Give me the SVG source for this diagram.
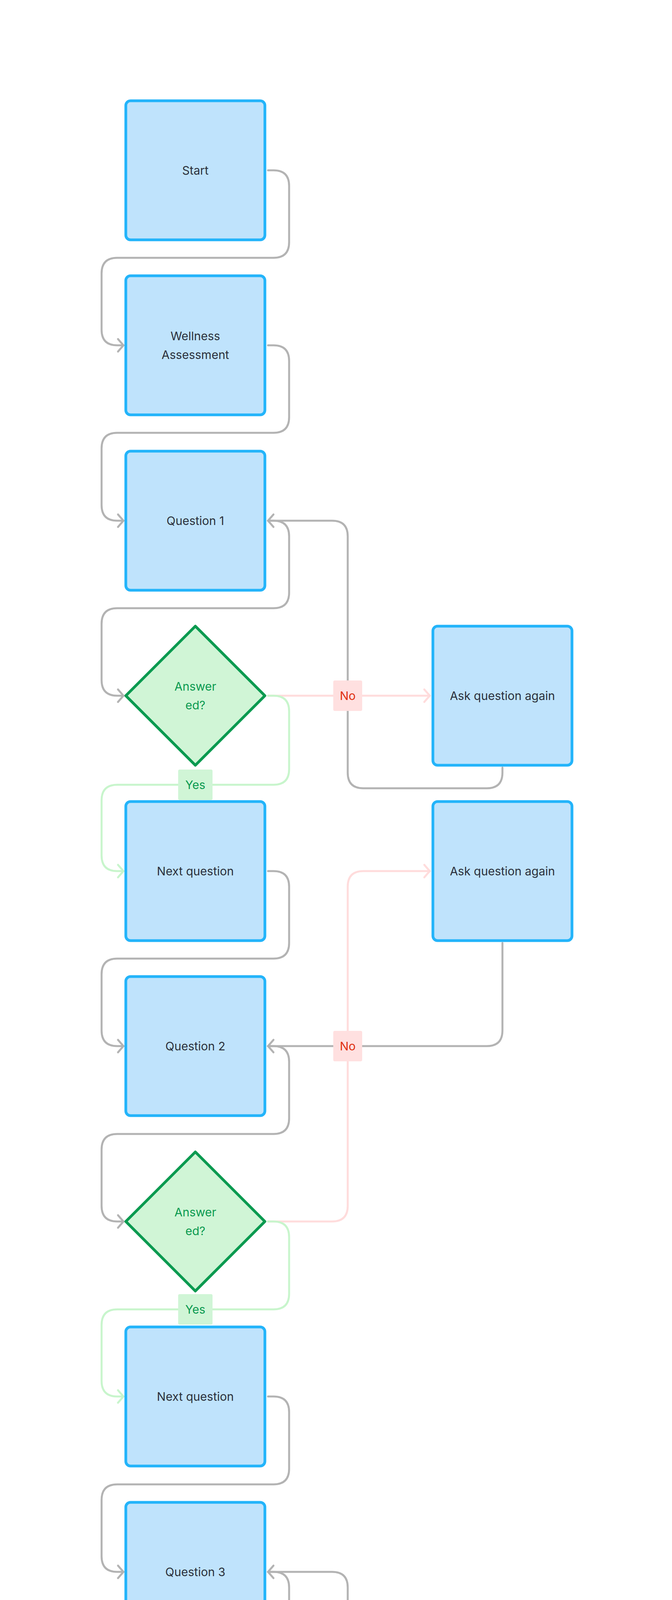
<svg xmlns="http://www.w3.org/2000/svg" width="1720" height="5800" viewBox="0 0 1720 5800">
<style>
.box{fill:#bfe3fc;stroke:#23b4fa;stroke-width:7}
.dia{fill:#d0f5d6;stroke:#0a9a50;stroke-width:7;stroke-linejoin:round}
.t{font-family:Inter,"Liberation Sans",sans-serif;font-size:30px;fill:#2b303b;text-anchor:middle;dominant-baseline:central}
.tg{font-family:Inter,"Liberation Sans",sans-serif;font-size:30px;fill:#0a9a50;text-anchor:middle;dominant-baseline:central}
.tr{font-family:Inter,"Liberation Sans",sans-serif;font-size:30px;fill:#e0300f;text-anchor:middle;dominant-baseline:central}
.g{fill:none;stroke:#b3b3b3;stroke-width:5;stroke-linecap:round;stroke-linejoin:round}
.gr{fill:none;stroke:#c8f5cc;stroke-width:5;stroke-linecap:round;stroke-linejoin:round}
.pk{fill:none;stroke:#ffdcdc;stroke-width:5;stroke-linecap:round;stroke-linejoin:round}
</style>
<defs>
<marker id="ag" markerUnits="userSpaceOnUse" markerWidth="40" markerHeight="40" viewBox="-20 -20 40 40" refX="0" refY="0" orient="auto"><path d="M-14,-16 L0,0 L-14,16" fill="none" stroke="#b3b3b3" stroke-width="5" stroke-linecap="round"/></marker>
<marker id="agr" markerUnits="userSpaceOnUse" markerWidth="40" markerHeight="40" viewBox="-20 -20 40 40" refX="0" refY="0" orient="auto"><path d="M-14,-16 L0,0 L-14,16" fill="none" stroke="#c8f5cc" stroke-width="5" stroke-linecap="round"/></marker>
<marker id="apk" markerUnits="userSpaceOnUse" markerWidth="40" markerHeight="40" viewBox="-20 -20 40 40" refX="0" refY="0" orient="auto"><path d="M-14,-16 L0,0 L-14,16" fill="none" stroke="#ffdcdc" stroke-width="5" stroke-linecap="round"/></marker>
</defs>
<rect width="1720" height="5800" fill="#ffffff"/>
<g id="connectors">
<path class="g" marker-end="url(#ag)" d="M686 436 H700 Q740 436 740 476 V620 Q740 660 700 660 H300 Q260 660 260 700 V844 Q260 884 300 884 H316"/>
<path class="g" marker-end="url(#ag)" d="M686 884 H700 Q740 884 740 924 V1068 Q740 1108 700 1108 H300 Q260 1108 260 1148 V1293 Q260 1333 300 1333 H316"/>
<path class="g" marker-end="url(#ag)" d="M686 1333 H700 Q740 1333 740 1373 V1517 Q740 1557 700 1557 H300 Q260 1557 260 1597 V1741 Q260 1781 300 1781 H316"/>
<path class="pk" marker-end="url(#apk)" d="M686 1781 H1100"/>
<path class="gr" marker-end="url(#agr)" d="M686 1781 H700 Q740 1781 740 1821 V1969 Q740 2009 700 2009 H300 Q260 2009 260 2049 V2190 Q260 2230 300 2230 H316"/>
<path class="g" marker-end="url(#ag)" d="M1286 1965 V1978 Q1286 2018 1246 2018 H930 Q890 2018 890 1978 V1373 Q890 1333 850 1333 H686"/>
<path class="g" marker-end="url(#ag)" d="M686 2230 H700 Q740 2230 740 2270 V2414 Q740 2454 700 2454 H300 Q260 2454 260 2494 V2638 Q260 2678 300 2678 H316"/>
<path class="g" marker-end="url(#ag)" d="M1286 2414 V2638 Q1286 2678 1246 2678 H686"/>
<path class="g" marker-end="url(#ag)" d="M686 2678 H700 Q740 2678 740 2718 V2863 Q740 2903 700 2903 H300 Q260 2903 260 2943 V3087 Q260 3127 300 3127 H316"/>
<path class="pk" marker-end="url(#apk)" d="M686 3127 H850 Q890 3127 890 3087 V2270 Q890 2230 930 2230 H1100"/>
<path class="gr" marker-end="url(#agr)" d="M686 3127 H700 Q740 3127 740 3167 V3312 Q740 3352 700 3352 H300 Q260 3352 260 3392 V3535 Q260 3575 300 3575 H316"/>
<path class="g" marker-end="url(#ag)" d="M686 3575 H700 Q740 3575 740 3615 V3760 Q740 3800 700 3800 H300 Q260 3800 260 3840 V3984 Q260 4024 300 4024 H316"/>
<path class="g" marker-end="url(#ag)" d="M686 4024 H700 Q740 4024 740 4064 V4208 Q740 4248 700 4248 H300 Q260 4248 260 4288 V4432 Q260 4472 300 4472 H316"/>
<path class="pk" marker-end="url(#apk)" d="M686 4472 H1100"/>
<path class="g" marker-end="url(#ag)" d="M1286 4656 V4680 Q1286 4720 1246 4720 H930 Q890 4720 890 4680 V4064 Q890 4024 850 4024 H686"/>
<path class="g" marker-end="url(#ag)" d="M686 4921 H700 Q740 4921 740 4961 V5105 Q740 5145 700 5145 H300 Q260 5145 260 5185 V5329 Q260 5369 300 5369 H316"/>
<rect x="853" y="1742" width="74" height="78" rx="4" fill="#ffe0e0"/><text class="tr" x="890" y="1781">No</text>
<rect x="456" y="1970" width="88" height="78" rx="4" fill="#d0f5d6"/><text class="tg" x="500" y="2009">Yes</text>
<rect x="853" y="2639" width="74" height="78" rx="4" fill="#ffe0e0"/><text class="tr" x="890" y="2678">No</text>
<rect x="456" y="3313" width="88" height="78" rx="4" fill="#d0f5d6"/><text class="tg" x="500" y="3352">Yes</text>
<rect x="853" y="4433" width="74" height="78" rx="4" fill="#ffe0e0"/><text class="tr" x="890" y="4472">No</text>
<text class="t" x="500" y="4700">Yes</text>
</g>
<g id="start"><rect class="box" x="322" y="258" width="356" height="356" rx="12"/><text class="t" x="500" y="436">Start</text></g>
<g id="wellness"><rect class="box" x="322" y="706" width="356" height="356" rx="12"/><text class="t" x="500" y="860">Wellness</text><text class="t" x="500" y="908">Assessment</text></g>
<g id="q1"><rect class="box" x="322" y="1155" width="356" height="356" rx="12"/><text class="t" x="500" y="1333">Question 1</text></g>
<g id="d1"><polygon class="dia" points="500,1603 678,1781 500,1959 322,1781"/><text class="tg" x="500" y="1757">Answer</text><text class="tg" x="500" y="1805">ed?</text></g>
<g id="ask1"><rect class="box" x="1108" y="1603" width="356" height="356" rx="12"/><text class="t" x="1286" y="1781">Ask question again</text></g>
<g id="next1"><rect class="box" x="322" y="2052" width="356" height="356" rx="12"/><text class="t" x="500" y="2230">Next question</text></g>
<g id="ask2"><rect class="box" x="1108" y="2052" width="356" height="356" rx="12"/><text class="t" x="1286" y="2230">Ask question again</text></g>
<g id="q2"><rect class="box" x="322" y="2500" width="356" height="356" rx="12"/><text class="t" x="500" y="2678">Question 2</text></g>
<g id="d2"><polygon class="dia" points="500,2949 678,3127 500,3305 322,3127"/><text class="tg" x="500" y="3103">Answer</text><text class="tg" x="500" y="3151">ed?</text></g>
<g id="next2"><rect class="box" x="322" y="3397" width="356" height="356" rx="12"/><text class="t" x="500" y="3575">Next question</text></g>
<g id="q3"><rect class="box" x="322" y="3846" width="356" height="356" rx="12"/><text class="t" x="500" y="4024">Question 3</text></g>
<g id="d3"><polygon class="dia" points="500,4294 678,4472 500,4650 322,4472"/><text class="tg" x="500" y="4448">Answer</text><text class="tg" x="500" y="4496">ed?</text></g>
<g id="ask3"><rect class="box" x="1108" y="4294" width="356" height="356" rx="12"/><text class="t" x="1286" y="4472">Ask question again</text></g>
<g id="finish"><rect class="box" x="322" y="4743" width="356" height="356" rx="12"/><text class="t" x="500" y="4921">Finish</text></g>
<g id="end"><rect class="box" x="322" y="5191" width="356" height="356" rx="12"/><text class="t" x="500" y="5369">End</text></g>
</svg>
